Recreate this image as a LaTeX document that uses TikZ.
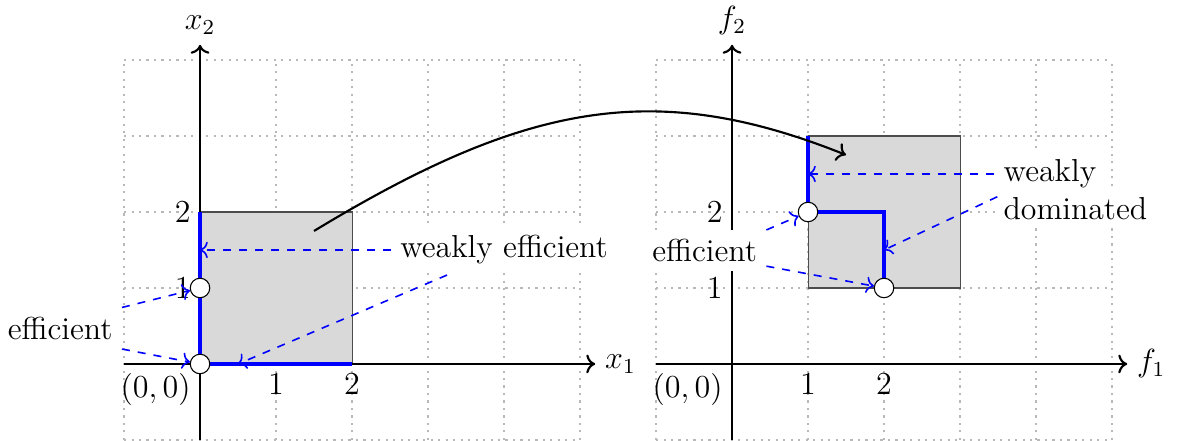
\documentclass[tikz,border=0pt]{standalone}
\usetikzlibrary{arrows.meta}
\begin{document}
\begin{tikzpicture}[
  every node/.style={font=\fontsize{11.9}{14}\selectfont},
  gridline/.style={gray!55, dotted, line width=0.8pt},
  axisline/.style={thick, ->},
  region/.style={fill=gray!30, draw=black!70, thin},
  front/.style={blue, line width=1.7pt},
  pt/.style={circle, draw=black, fill=white, inner sep=0pt, minimum size=7.3pt, thin},
  ptr/.style={blue, dashed, semithick, ->},
  lbl/.style={fill=white}
]
\useasboundingbox (-2.632,-1.013) rectangle (12.868,4.789);
% grids
\draw[gridline] (-1,-1) grid (5,4);
\draw[gridline] (6,-1) grid (12,4);
% regions
\draw[region] (0,0) rectangle (2,2);
\draw[region] (8,1) rectangle (10,3);
% axes
\draw[axisline] (-1,0) -- (5.2,0) node[right] (lx1) {$x_1$};
\draw[axisline] (0,-1) -- (0,4.2) node[above] (lx2) {$x_2$};
\draw[axisline] (6,0) -- (12.2,0) node[right] (lf1) {$f_1$};
\draw[axisline] (7,-1) -- (7,4.2) node[above] (lf2) {$f_2$};
% fronts
\draw[front] (0,2) -- (0,0) -- (2,0);
\draw[front] (8,3) -- (8,2) -- (9,2) -- (9,1);
% tick labels
\node[left] (ly2) at (0,2) {$2$};
\node[left] (ly1) at (0,1) {$1$};
\node[below] (lxa) at (1,0) {$1$};
\node[below] (lxb) at (2,0) {$2$};
\node[below left] (o1) at (0,0) {$(0,0)$};
\node[left] (ry2) at (7,2) {$2$};
\node[left] (ry1) at (7,1) {$1$};
\node[below] (rxa) at (8,0) {$1$};
\node[below] (rxb) at (9,0) {$2$};
\node[below left] (o2) at (7,0) {$(0,0)$};
% points
\node[pt] (a0) at (0,0) {};
\node[pt] (a1) at (0,1) {};
\node[pt] (b1) at (8,2) {};
\node[pt] (b2) at (9,1) {};
% curved map arrow
\coordinate (cs) at (1.5,1.75);
\coordinate (ce) at (8.5,2.75);
\draw[thick, ->] (cs) .. controls (4.3,3.45) and (6,3.75) .. (ce);
% left labels
\node[lbl] (effL) at (-1.84,0.47) {efficient};
\node[lbl] (weL) at (4.0,1.5) {weakly efficient};
\coordinate (weLt) at (0,1.5);
\coordinate (weLs) at (3.25,1.17);
\coordinate (weLe) at (0.5,0);
\draw[ptr] (effL.north east) -- (a1);
\draw[ptr] (effL.south east) -- (a0);
\draw[ptr] (weL.west) -- (weLt);
\draw[ptr] (weLs) -- (weLe);
% right labels
\node[lbl] (effR) at (6.64,1.49) {efficient};
\node[lbl, anchor=west] (domR) at (10.45,2.05) {dominated};
\node[lbl, anchor=west] (wkR) at (10.45,2.5) {weakly};
\coordinate (wkRt) at (8,2.5);
\coordinate (domRs) at (10.49,2.2);
\coordinate (domRt) at (9,1.5);
\draw[ptr] (effR.north east) -- (b1);
\draw[ptr] ([yshift=2pt]effR.south east) -- (b2);
\draw[ptr] (wkR.west) -- (wkRt);
\draw[ptr] (domRs) -- (domRt);
\end{tikzpicture}
\end{document}
